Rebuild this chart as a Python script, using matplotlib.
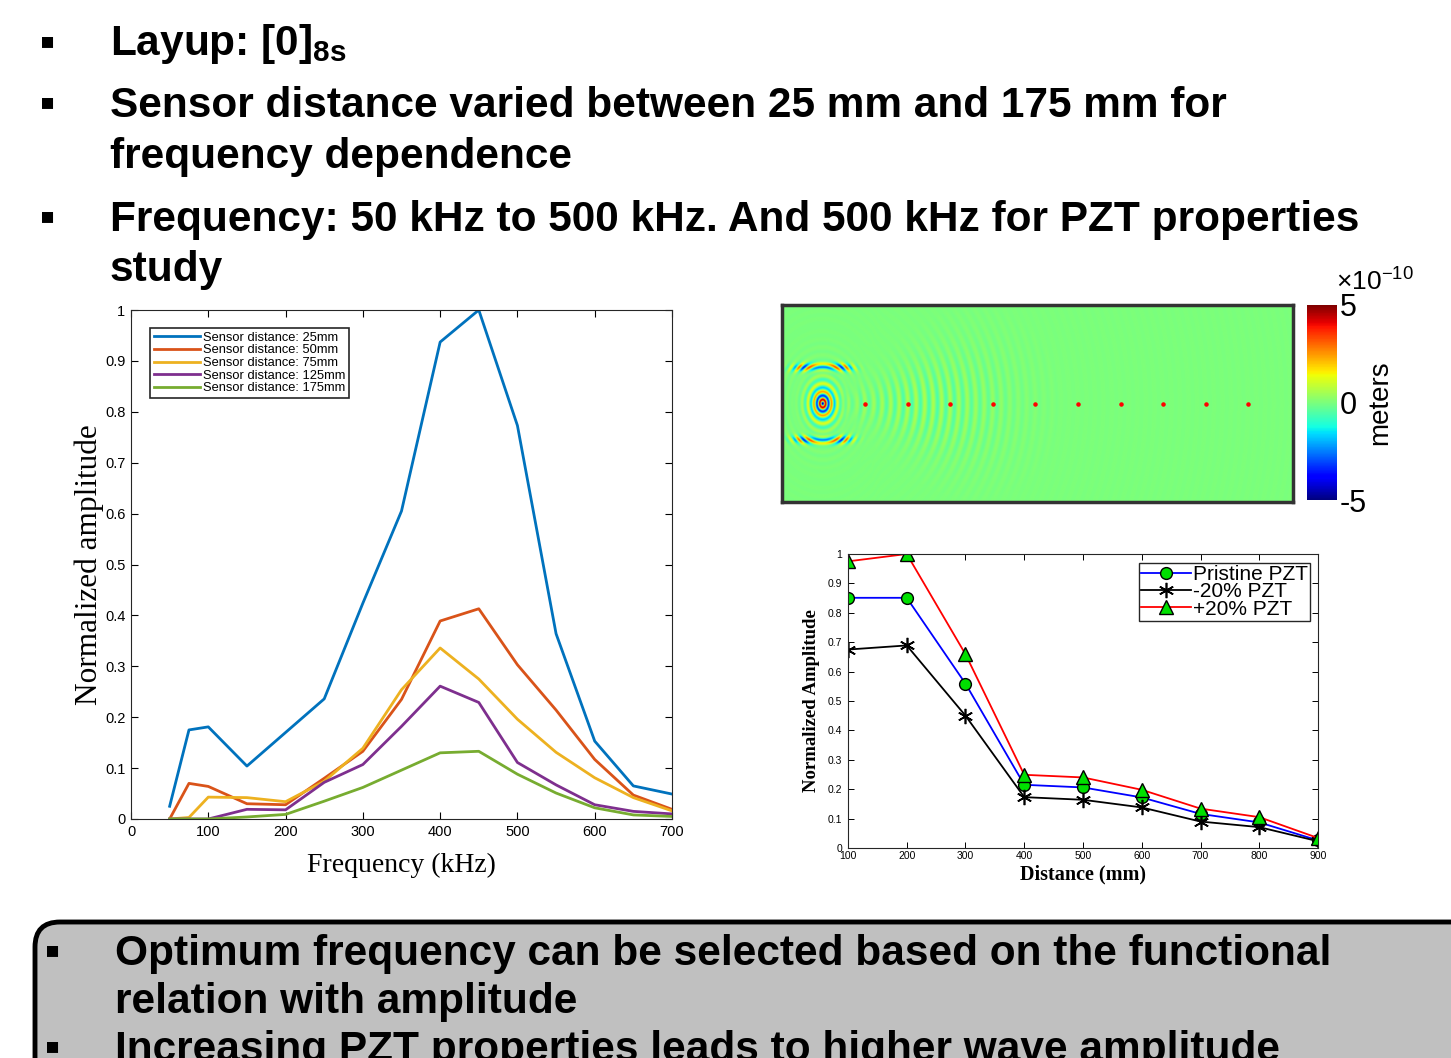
import numpy as np
import matplotlib
matplotlib.use("Agg")
import matplotlib.pyplot as plt
from matplotlib.patches import FancyBboxPatch

plt.rcParams['font.family'] = ['Liberation Sans', 'DejaVu Sans']
plt.rcParams['mathtext.fontset'] = 'custom'
plt.rcParams['mathtext.rm'] = 'Liberation Sans'
plt.rcParams['mathtext.bf'] = 'Liberation Sans:bold'

SANS = ['Liberation Sans', 'DejaVu Sans']
SERIF = ['Liberation Serif', 'DejaVu Serif']

# ---- frequency sweep (left chart) ----
freq_khz = [50, 75, 100, 150, 200, 250, 300, 350, 400, 450, 500, 550, 600, 650, 700]
amp_25mm = [0.025, 0.175, 0.181, 0.104, 0.170, 0.236, 0.424, 0.605, 0.937, 1.0,
            0.773, 0.364, 0.153, 0.065, 0.049]
amp_50mm = [0.0, 0.070, 0.064, 0.030, 0.028, 0.080, 0.133, 0.235, 0.389, 0.413,
            0.303, 0.214, 0.117, 0.047, 0.019]
amp_75mm = [0.0, 0.003, 0.043, 0.042, 0.034, 0.074, 0.139, 0.254, 0.336, 0.275,
            0.196, 0.131, 0.081, 0.042, 0.016]
amp_125mm = [0.0, 0.0, 0.0, 0.019, 0.018, 0.072, 0.107, 0.182, 0.261, 0.229,
             0.111, 0.067, 0.028, 0.015, 0.010]
amp_175mm = [0.0, 0.0, 0.0, 0.004, 0.009, 0.035, 0.062, 0.096, 0.130, 0.133,
             0.088, 0.051, 0.022, 0.008, 0.005]
sweep_labels = ['Sensor distance: 25mm', 'Sensor distance: 50mm', 'Sensor distance: 75mm',
                'Sensor distance: 125mm', 'Sensor distance: 175mm']
sweep_colors = ['#0072BD', '#D95319', '#EDB120', '#7E2F8E', '#77AC30']

# ---- PZT properties (bottom right chart) ----
distance_mm = [100, 200, 300, 400, 500, 600, 700, 800, 900]
pristine = [0.851, 0.851, 0.559, 0.215, 0.206, 0.172, 0.116, 0.087, 0.026]
minus20 = [0.675, 0.689, 0.450, 0.173, 0.164, 0.138, 0.090, 0.071, 0.023]
plus20 = [0.975, 1.0, 0.659, 0.249, 0.240, 0.198, 0.134, 0.105, 0.034]

# ---- wave field snapshot (top right) ----
plate_w, plate_h = 1200, 460          # mm
source_xy = (95, 230)
sensor_x = [195, 295, 395, 495, 595, 695, 795, 895, 995, 1095]
ring_wavelength = [14, 20]             # near rings, far ripples (mm)
ring_amp = [6.0, 0.6]                  # x1e-10 m

W, H = 1451, 1058
fig = plt.figure(figsize=(W / 100, H / 100), dpi=100)


def fx(px):
    return px / W


def fy(py):
    return 1 - py / H


# ---------------- left chart ----------------
ax = fig.add_axes([fx(131), fy(819), fx(672) - fx(131), fy(310) - fy(819)])
for vals, lab, col in zip([amp_25mm, amp_50mm, amp_75mm, amp_125mm, amp_175mm],
                          sweep_labels, sweep_colors):
    ax.plot(freq_khz, vals, color=col, lw=2.0, label=lab)
ax.set_xlim(0, 700)
ax.set_ylim(0, 1)
ax.set_xticks(range(0, 701, 100))
ax.set_yticks(np.arange(0, 1.01, 0.1))
ax.set_yticklabels(['0', '0.1', '0.2', '0.3', '0.4', '0.5', '0.6', '0.7', '0.8', '0.9', '1'])
ax.tick_params(direction='in', top=True, right=True, length=5, width=0.8,
               labelsize=10.5, pad=4)
for s in ax.spines.values():
    s.set_color('#262626')
ax.set_xlabel('Frequency (kHz)', family=SERIF, fontsize=20, labelpad=10)
ax.set_ylabel('Normalized amplitude', family=SERIF, fontsize=22.5, labelpad=1)
leg = ax.legend(loc='upper left', bbox_to_anchor=(0.035, 0.965),
                prop={'family': SANS, 'size': 9.3}, handlelength=3.6,
                handletextpad=0.2, labelspacing=0.05, borderpad=0.3,
                fancybox=False, framealpha=1, edgecolor='#262626', borderaxespad=0)
leg.get_frame().set_linewidth(1.2)

# ---------------- wave field ----------------
axi = fig.add_axes([fx(782), fy(502), fx(1293) - fx(782), fy(305) - fy(502)])
xs = np.linspace(0, plate_w, 720)
ys = np.linspace(0, plate_h, 280)
X, Y = np.meshgrid(xs, ys)
dx, dy = X - source_xy[0], Y - source_xy[1]
r_near = np.hypot(dx, dy / 1.35)
near = -ring_amp[0] * np.cos(2 * np.pi * r_near / ring_wavelength[0]) * np.exp(-r_near / 26)
band = np.exp(-((r_near - 75) / 22) ** 2) * np.exp(-((np.abs(dy) - 85) / 10) ** 2)
near += 3.5 * np.cos(2 * np.pi * r_near / ring_wavelength[0]) * band
r_far = np.hypot(dx, dy)
ang = np.arctan2(dy, dx)
cone = np.exp(-(ang / 0.42) ** 2) * (dx > 0)
far = ring_amp[1] * np.cos(2 * np.pi * r_far / ring_wavelength[1]) * cone \
    * np.exp(-((r_far - 230) / 200) ** 2)
halo = 0.45 * np.cos(2 * np.pi * r_near / ring_wavelength[0]) * np.exp(-((r_near - 55) / 50) ** 2)
field = (near + far + halo) * 1e-10
im = axi.imshow(field, cmap='jet', vmin=-5e-10, vmax=5e-10, origin='lower',
                extent=[0, plate_w, 0, plate_h], aspect='auto', interpolation='bilinear')
axi.scatter(sensor_x, [source_xy[1]] * len(sensor_x), s=5, color='red', zorder=3)
axi.set_xticks([])
axi.set_yticks([])
for s in axi.spines.values():
    s.set_linewidth(2.5)
    s.set_color('#333333')

cax = fig.add_axes([fx(1307), fy(500), fx(1337) - fx(1307), fy(305) - fy(500)])
cb = fig.colorbar(im, cax=cax)
cb.set_ticks([-5e-10, 0, 5e-10])
cb.set_ticklabels(['-5', '0', '5'])
cb.outline.set_visible(False)
cax.tick_params(length=0, labelsize=22, pad=2)
cb.set_label('meters', fontsize=20, labelpad=0)
fig.text(fx(1336), fy(290), r'$\times10^{-10}$', fontsize=19,
         ha='left', va='baseline')

# ---------------- PZT chart ----------------
ax2 = fig.add_axes([fx(848), fy(848), fx(1318) - fx(848), fy(554) - fy(848)])
ax2.plot(distance_mm, pristine, '-o', color='blue', lw=1.3, ms=8.5,
         mfc='#00E000', mec='black', mew=1.0, label='Pristine PZT')
ax2.plot(distance_mm, minus20, '-', marker=(6, 2, 0), color='black', lw=1.3, ms=11,
         mew=1.2, label='-20% PZT')
ax2.plot(distance_mm, plus20, '-^', color='red', lw=1.3, ms=9.5,
         mfc='#00E000', mec='black', mew=1.0, label='+20% PZT')
ax2.set_xlim(100, 900)
ax2.set_ylim(0, 1)
ax2.set_xticks(distance_mm)
ax2.set_yticks(np.arange(0, 1.01, 0.1))
ax2.set_yticklabels(['0', '0.1', '0.2', '0.3', '0.4', '0.5', '0.6', '0.7', '0.8', '0.9', '1'])
ax2.tick_params(direction='in', top=True, right=True, length=4, width=0.7,
                labelsize=7.5, pad=2)
ax2.tick_params(axis='y', pad=4)
for s in ax2.spines.values():
    s.set_color('#262626')
ax2.set_xlabel('Distance (mm)', family=SERIF, fontweight='bold', fontsize=14.5, labelpad=3)
ax2.set_ylabel('Normalized Amplitude', family=SERIF, fontweight='bold', fontsize=13.5,
               labelpad=6)
leg2 = ax2.legend(loc='upper right', bbox_to_anchor=(0.983, 0.97), fontsize=15,
                  handlelength=2.4, handletextpad=0.1, labelspacing=-0.08,
                  borderpad=0.1, fancybox=False, framealpha=1, edgecolor='#262626',
                  borderaxespad=0)
leg2.get_frame().set_linewidth(1.0)

# ---------------- slide text ----------------
BODY = 30.5
bullet_kw = dict(family=['DejaVu Sans'], fontsize=16, ha='left', va='baseline')
text_kw = dict(fontsize=BODY, fontweight='bold', ha='left', va='baseline')

fig.text(fx(40), fy(47), '\u25aa', **bullet_kw)
fig.text(fx(110), fy(55), r'Layup: [0]$_{\mathbf{8s}}$', **text_kw)
fig.text(fx(40), fy(108), '\u25aa', **bullet_kw)
fig.text(fx(110), fy(117), 'Sensor distance varied between 25 mm and 175 mm for', **text_kw)
fig.text(fx(110), fy(168), 'frequency dependence', **text_kw)
fig.text(fx(40), fy(222), '\u25aa', **bullet_kw)
fig.text(fx(110), fy(231), 'Frequency: 50 kHz to 500 kHz. And 500 kHz for PZT properties',
         **text_kw)
fig.text(fx(110), fy(281), 'study', **text_kw)

box = FancyBboxPatch((0.35, -0.6), 15.0, 1.96, boxstyle='round,pad=0,rounding_size=0.25',
                     transform=fig.dpi_scale_trans, facecolor='#C0C0C0',
                     edgecolor='black', linewidth=3.5, zorder=0)
fig.patches.append(box)
fig.text(fx(45), fy(956), '\u25aa', **bullet_kw)
fig.text(fx(115), fy(965), 'Optimum frequency can be selected based on the functional',
         **text_kw)
fig.text(fx(115), fy(1013), 'relation with amplitude', **text_kw)
fig.text(fx(45), fy(1052), '\u25aa', **bullet_kw)
fig.text(fx(115), fy(1061), 'Increasing PZT properties leads to higher wave amplitude',
         **text_kw)

fig.savefig('out.png', dpi=100)
